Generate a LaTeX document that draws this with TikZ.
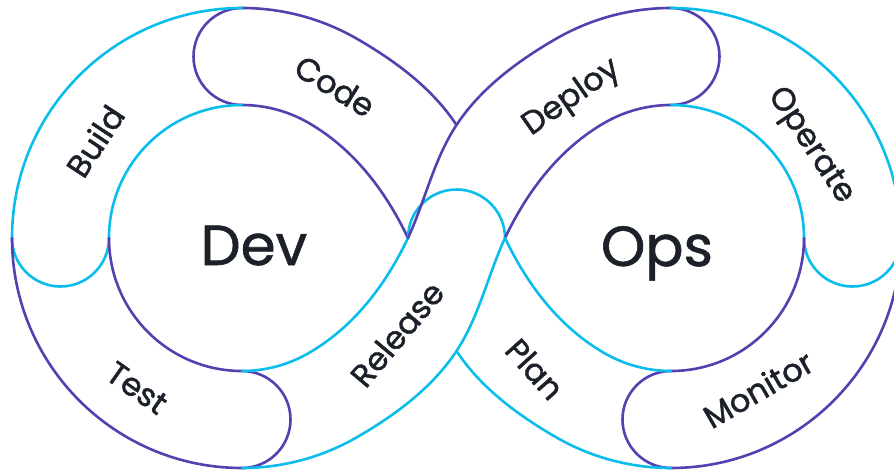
\documentclass[tikz,border=0pt]{standalone}
\usepackage{fontspec}
\setmainfont{Poppins}
\newfontfamily\lblfont[FakeBold=1.4]{Poppins}
\newfontfamily\bigfont[FakeBold=1.0]{Poppins}
\definecolor{cy}{HTML}{0BBDEB}
\definecolor{pu}{HTML}{5341B0}
\definecolor{ink}{HTML}{1B2029}
\begin{document}
\begin{tikzpicture}[x=1pt,y=-1pt,line width=2.6pt,line cap=round,line join=round,
  cyline/.style={draw=cy},
  puline/.style={draw=pu},
  lbl/.style={font=\lblfont\fontsize{32}{32}\selectfont,text=ink,inner sep=0pt},
  big/.style={font=\bigfont\fontsize{56.5}{56.5}\selectfont,text=ink,inner sep=0pt,anchor=base}]
\useasboundingbox (0,0) rectangle (894,471);
% ---- Code (purple)
\draw[puline] (242,8) arc[start angle=-90,end angle=-60,radius=230] .. controls (395.1,60.8) and (432.3,88.3) .. (456.5,125);
\draw[puline] (242,105) arc[start angle=-90,end angle=-60,radius=133] .. controls (351.8,147.8) and (384.3,188.3) .. (408,238);
\draw[puline] (242,8) arc[start angle=270,end angle=90,radius=48.5];
% ---- Build (cyan)
\draw[cyline] (242,8) arc[start angle=270,end angle=180,radius=230];
\draw[cyline] (242,105) arc[start angle=270,end angle=180,radius=133];
\draw[cyline] (12,238) arc[start angle=180,end angle=0,radius=48.5];
% ---- Test (purple)
\draw[puline] (12,238) arc[start angle=180,end angle=90,radius=230];
\draw[puline] (109,238) arc[start angle=180,end angle=90,radius=133];
\draw[puline] (242,371) arc[start angle=-90,end angle=90,radius=48.5];
% ---- Release (cyan)
\draw[cyline] (242,468) arc[start angle=90,end angle=60,radius=230] .. controls (395.1,415.2) and (432.3,387.7) .. (456.5,351) .. controls (479.1,316.8) and (487.8,275.3) .. (505,238);
\draw[cyline] (242,371) arc[start angle=90,end angle=60,radius=133] .. controls (351.8,328.2) and (384.3,287.7) .. (408,238);
\draw[cyline] (408,238) arc[start angle=180,end angle=360,radius=48.5];
% ---- Deploy (purple)
\draw[puline] (408,238) .. controls (425.2,200.7) and (433.9,159.2) .. (456.5,125) .. controls (480.7,88.3) and (517.9,60.8) .. (556,38.8) arc[start angle=240,end angle=270,radius=230];
\draw[puline] (505,238) .. controls (528.7,188.3) and (561.2,147.8) .. (604.5,122.8) arc[start angle=240,end angle=270,radius=133];
\draw[puline] (671,8) arc[start angle=-90,end angle=90,radius=48.5];
% ---- Operate (cyan)
\draw[cyline] (671,8) arc[start angle=270,end angle=360,radius=230];
\draw[cyline] (671,105) arc[start angle=270,end angle=360,radius=133];
\draw[cyline] (804,238) arc[start angle=180,end angle=0,radius=48.5];
% ---- Monitor (purple)
\draw[puline] (901,238) arc[start angle=0,end angle=90,radius=230];
\draw[puline] (804,238) arc[start angle=0,end angle=90,radius=133];
\draw[puline] (671,371) arc[start angle=270,end angle=90,radius=48.5];
% ---- Plan (cyan)
\draw[cyline] (671,468) arc[start angle=90,end angle=120,radius=230] .. controls (517.9,415.2) and (480.7,387.7) .. (456.5,351);
\draw[cyline] (671,371) arc[start angle=90,end angle=120,radius=133] .. controls (561.2,328.2) and (528.7,287.7) .. (505,238);
% ---- labels
\node[lbl,rotate=-31.5] (code) at (335,86) {Code};
\node[lbl,rotate=56.6] (build) at (95,141) {Build};
\node[lbl,rotate=-35] (test) at (137,388) {Test};
\node[lbl,rotate=50] (release) at (397,334) {Release};
\node[lbl,rotate=35] (deploy) at (572,98) {Deploy};
\node[lbl,rotate=-56.5] (operate) at (810,146) {Operate};
\node[lbl,rotate=30] (monitor) at (758,389) {Monitor};
\node[lbl,rotate=-48] (plan) at (535,369) {Plan};
\node[big] (dev) at (254,265) {Dev};
\node[big] (ops) at (657,266) {Ops};
\end{tikzpicture}
\end{document}
